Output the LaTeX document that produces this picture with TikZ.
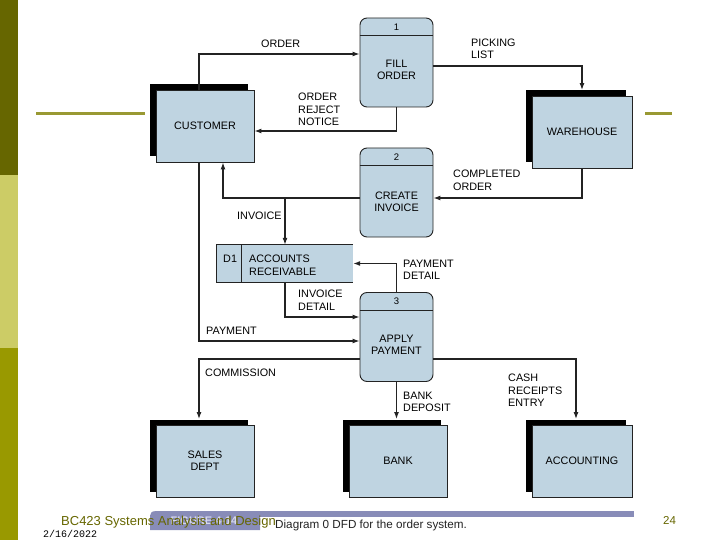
\documentclass[tikz,border=0pt]{standalone}
\usepackage{fontspec}
\setmainfont{Liberation Sans}
\setmonofont{Liberation Mono}
\usetikzlibrary{arrows.meta,shadows}
\definecolor{boxblue}{RGB}{191,212,225}
\definecolor{olivedark}{RGB}{102,102,0}
\definecolor{olivelight}{RGB}{204,204,102}
\definecolor{olivemid}{RGB}{153,153,0}
\definecolor{oliveline}{RGB}{153,153,51}
\definecolor{figbar}{RGB}{136,140,184}
\definecolor{figtext}{RGB}{214,216,236}
\definecolor{linegray}{RGB}{35,35,35}
\tikzset{
    every node/.style={inner sep=0pt, font=\fontsize{10.8}{12.3}\selectfont}
}
\tikzset{
    entity/.style={rectangle, draw=linegray, fill=boxblue, line width=.9pt,
        minimum width=98pt, minimum height=72pt, align=center,
        general shadow={fill=black, shadow xshift=-6pt, shadow yshift=5.5pt}},
    process/.style={rectangle, rounded corners=7pt, draw=linegray,
        fill=boxblue, line width=.9pt, minimum width=73pt, minimum height=89pt},
    store/.style={rectangle, fill=boxblue, minimum width=136pt, minimum height=37pt},
    lbl/.style={anchor=north west, align=left},
    flow/.style={draw=linegray, line width=1.2pt, -{Latex[length=7pt,width=5pt]}},
    toent/.style={flow, shorten >=5.5pt}
}

\begin{document}
\begin{tikzpicture}[x=1pt, y=-1pt]
  \useasboundingbox (0,0) rectangle (720,540);
  % slide decoration
  \fill[olivedark] (0,0) rectangle (18,175);
  \fill[olivelight] (0,175) rectangle (18,348);
  \fill[olivemid] (0,348) rectangle (18,540);
  \draw[oliveline, line width=3pt] (36,114) -- (145,114);
  \draw[oliveline, line width=3pt] (645,114) -- (672,114);

  % external entities
  \node (cust) [entity] at (205,126) {CUSTOMER};
  \node (wh) [entity, minimum width=100pt] at (582,132) {WAREHOUSE};
  \node (sales) [entity] at (205,461) {SALES\\DEPT};
  \node (bank) [entity] at (398,461) {BANK};
  \node (acct) [entity, minimum width=100pt] at (582,461) {ACCOUNTING};

  % processes
  \node (p_1) [process] at (396.5,62.5) {};
  \node (p_2) [process] at (396.5,192.5) {};
  \node (p_3) [process] at (396.5,337) {};
  \draw[linegray, line width=.9pt] ([yshift=-18pt]p_1.north west) -- ([yshift=-18pt]p_1.north east);
  \draw[linegray, line width=.9pt] ([yshift=-18pt]p_2.north west) -- ([yshift=-18pt]p_2.north east);
  \draw[linegray, line width=.9pt] ([yshift=-18pt]p_3.north west) -- ([yshift=-18pt]p_3.north east);
  \node (n_1) [font=\fontsize{9.5}{11}\selectfont] at (396.5,27) {1};
  \node (n_2) [font=\fontsize{9.5}{11}\selectfont] at (396.5,157) {2};
  \node (n_3) [font=\fontsize{9.5}{11}\selectfont] at (396.5,301) {3};
  \node (t_1) [align=center] at (396.5,69.5) {FILL\\ORDER};
  \node (t_2) [align=center] at (396.5,201.5) {CREATE\\INVOICE};
  \node (t_3) [align=center] at (396.5,345) {APPLY\\PAYMENT};

  % data store
  \node (d_1) [store] at (285,263.5) {};
  \draw[linegray, line width=.9pt] (d_1.north east) -- (d_1.north west)
      -- (d_1.south west) -- (d_1.south east);
  \draw[linegray, line width=.9pt] ([xshift=25pt]d_1.north west) -- ([xshift=25pt]d_1.south west);
  \node (d_id) [lbl] at (223,255) {D1};
  \node (d_name) [lbl] at (249,255) {ACCOUNTS\\RECEIVABLE};

  % data flows
  \draw[flow] ([xshift=-6pt]cust.north) |- ([yshift=8.5pt]p_1.west);
  \draw[flow] (p_1.south) |- ([yshift=-5pt]cust.east);
  \draw[toent] ([yshift=-3.5pt]p_1.east) -| (wh.north);
  \draw[flow] (wh.south) |- ([yshift=-5.5pt]p_2.east);
  \draw[flow] ([yshift=-5.5pt]p_2.west) coordinate (inv_s) -| ([xshift=18pt]cust.south);
  \coordinate (inv_j) at (inv_s -| d_1.north);
  \draw[flow] (inv_j) -- (d_1.north);
  \draw[flow] (p_3.north) |- (d_1.east);
  \draw[flow] (d_1.south) |- ([yshift=20pt]p_3.west);
  \draw[flow] ([xshift=-6pt]cust.south) |- ([yshift=-4pt]p_3.west);
  \draw[toent] ([yshift=-22pt]p_3.west) -| ([xshift=-6pt]sales.north);
  \draw[toent] (p_3.south) -- (p_3.south |- bank.north);
  \draw[toent] ([yshift=-22pt]p_3.east) -| ([xshift=-6pt]acct.north);

  % flow labels
  \node (l_ord) [lbl] at (261,40) {ORDER};
  \node (l_rej) [lbl] at (298,93) {ORDER\\REJECT\\NOTICE};
  \node (l_pick) [lbl] at (471,38.5) {PICKING\\LIST};
  \node (l_comp) [lbl] at (453,170) {COMPLETED\\ORDER};
  \node (l_inv) [lbl] at (237,212) {INVOICE};
  \node (l_pdet) [lbl] at (403,260) {PAYMENT\\DETAIL};
  \node (l_idet) [lbl] at (298,290) {INVOICE\\DETAIL};
  \node (l_pay) [lbl] at (206,327) {PAYMENT};
  \node (l_com) [lbl] at (205,369) {COMMISSION};
  \node (l_dep) [lbl] at (403,392) {BANK\\DEPOSIT};
  \node (l_cash) [lbl] at (508,374) {CASH\\RECEIPTS\\ENTRY};

  % footer
  \fill[figbar] (260,511) rectangle (634,517);
  \fill[figbar] (150,530) -- (150,521) .. controls (150,511) .. (162,511)
      -- (260,511) -- (260,530) -- cycle;
  \node (fig) [text=figtext, font=\bfseries\fontsize{11}{12}\selectfont] at (204,521) {FIGURE 4-14};
  \node (cap) [anchor=base west, text=linegray, font=\fontsize{11.7}{13}\selectfont] at (275,528) {Diagram 0 DFD for the order system.};
  \node (course) [anchor=base west, text=olivedark, font=\fontsize{13}{15}\selectfont] at (61,525) {BC423 Systems Analysis and Design};
  \node (date) [anchor=base west, font=\ttfamily\fontsize{10}{12}\selectfont] at (43,537) {2/16/2022};
  \node (page) [anchor=base west, text=olivedark, font=\fontsize{11.5}{12}\selectfont] at (663,524) {24};
\end{tikzpicture}
\end{document}
